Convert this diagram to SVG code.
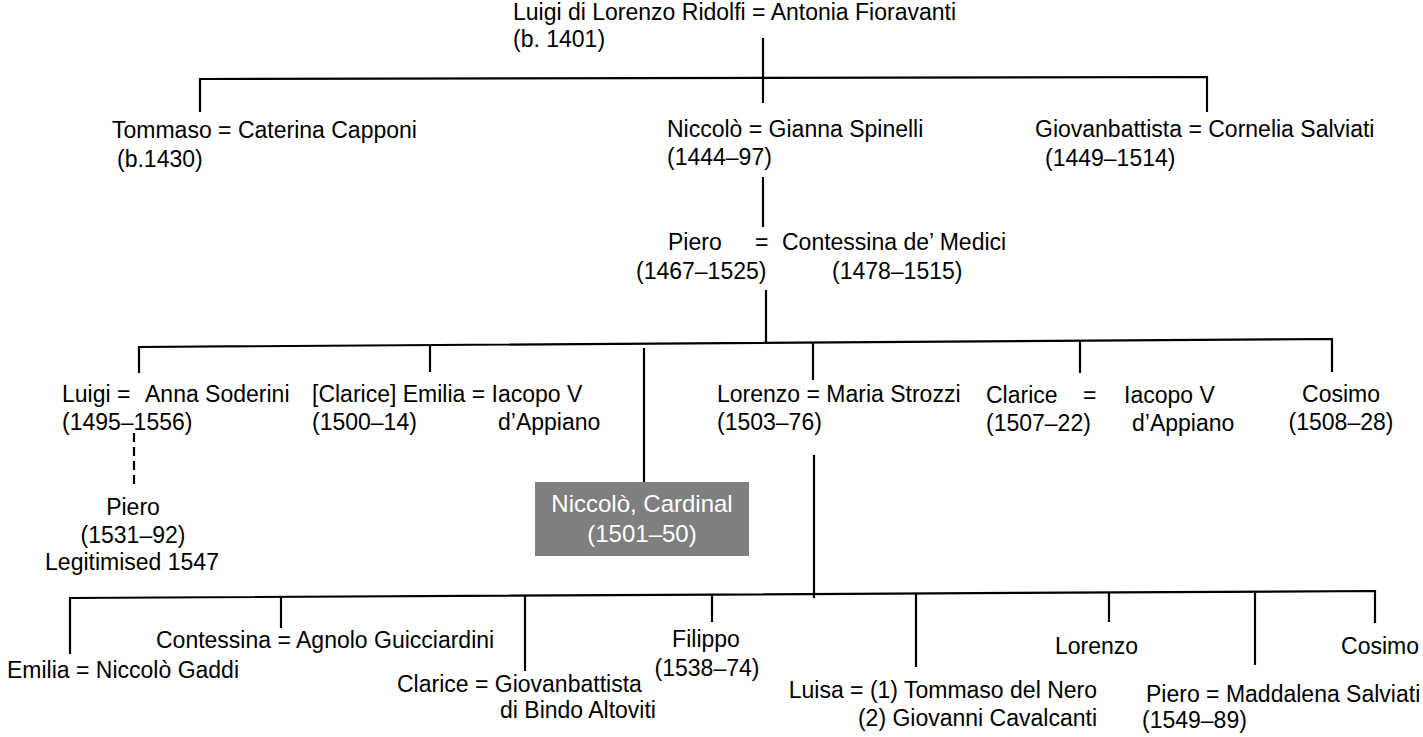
<svg xmlns="http://www.w3.org/2000/svg" width="1423" height="737" viewBox="0 0 1423 737">
<style>
text{font-family:"Liberation Sans",Arial,sans-serif;font-size:23px;fill:#000}
.c{stroke:#000;stroke-width:2.2;fill:none;stroke-linecap:butt}
.d{stroke-dasharray:9 5}
.w{fill:#fff;font-size:24px}
</style>
<rect width="1423" height="737" fill="#fff"/>
<g id="connectors">
<line class="c" x1="763" y1="38" x2="763" y2="103"/>
<polyline class="c" points="200,112 200,79 1207,77 1207,112"/>
<line class="c" x1="763" y1="177" x2="763" y2="227"/>
<line class="c" x1="766" y1="290" x2="766" y2="344"/>
<polyline class="c" points="139,373 139,347 1332,339 1332,372"/>
<line class="c" x1="430" y1="346" x2="430" y2="372"/>
<line class="c" x1="644" y1="348" x2="644" y2="484"/>
<line class="c" x1="813" y1="343" x2="813" y2="380"/>
<line class="c" x1="1080" y1="341" x2="1080" y2="373"/>
<line class="c d" x1="134" y1="433" x2="134" y2="487"/>
<line class="c" x1="814" y1="455" x2="814" y2="598"/>
<polyline class="c" points="70,654 70,598 1375,591 1375,623"/>
<line class="c" x1="281" y1="597" x2="281" y2="628"/>
<line class="c" x1="525" y1="596" x2="525" y2="671"/>
<line class="c" x1="712" y1="595" x2="712" y2="622"/>
<line class="c" x1="916" y1="594" x2="916" y2="667"/>
<line class="c" x1="1109" y1="592" x2="1109" y2="622"/>
<line class="c" x1="1255" y1="592" x2="1255" y2="665"/>
</g>
<g id="n-luigi-root"><text x="513" y="20">Luigi di Lorenzo Ridolfi = Antonia Fioravanti</text><text x="513" y="47">(b. 1401)</text></g>
<g id="n-tommaso"><text x="112" y="138">Tommaso = Caterina Capponi</text><text x="117" y="167">(b.1430)</text></g>
<g id="n-niccolo"><text x="667" y="137">Niccolò = Gianna Spinelli</text><text x="667" y="165">(1444–97)</text></g>
<g id="n-giovanbattista"><text x="1035" y="137">Giovanbattista = Cornelia Salviati</text><text x="1045" y="166">(1449–1514)</text></g>
<g id="n-piero"><text y="250"><tspan x="668">Piero</tspan><tspan x="755">=</tspan><tspan x="782">Contessina de’ Medici</tspan></text><text y="279"><tspan x="636">(1467–1525)</tspan><tspan x="832">(1478–1515)</tspan></text></g>
<g id="n-luigi"><text y="402"><tspan x="62">Luigi =</tspan><tspan x="145">Anna Soderini</tspan></text><text x="62" y="430">(1495–1556)</text></g>
<g id="n-emilia"><text x="312" y="402">[Clarice] Emilia = Iacopo V</text><text y="430"><tspan x="312">(1500–14)</tspan><tspan x="498">d’Appiano</tspan></text></g>
<g id="n-cardinal"><rect x="535" y="482" width="214" height="74" fill="#7f7f7f"/><text class="w" x="642" y="512" text-anchor="middle">Niccolò, Cardinal</text><text class="w" x="642" y="542" text-anchor="middle">(1501–50)</text></g>
<g id="n-lorenzo"><text x="717" y="402">Lorenzo = Maria Strozzi</text><text x="717" y="430">(1503–76)</text></g>
<g id="n-clarice"><text y="403"><tspan x="986">Clarice</tspan><tspan x="1083">=</tspan><tspan x="1124">Iacopo V</tspan></text><text y="431"><tspan x="986">(1507–22)</tspan><tspan x="1132">d’Appiano</tspan></text></g>
<g id="n-cosimo1"><text x="1341" y="402" text-anchor="middle">Cosimo</text><text x="1341" y="430" text-anchor="middle">(1508–28)</text></g>
<g id="n-piero-leg"><text x="133" y="515" text-anchor="middle">Piero</text><text x="133" y="543" text-anchor="middle">(1531–92)</text><text x="132" y="570" text-anchor="middle">Legitimised 1547</text></g>
<g id="n-emilia2"><text x="7" y="678">Emilia = Niccolò Gaddi</text></g>
<g id="n-contessina"><text x="156" y="648">Contessina = Agnolo Guicciardini</text></g>
<g id="n-clarice2"><text x="397" y="692">Clarice = Giovanbattista</text><text x="500" y="718">di Bindo Altoviti</text></g>
<g id="n-filippo"><text x="706" y="647" text-anchor="middle">Filippo</text><text x="707" y="676" text-anchor="middle">(1538–74)</text></g>
<g id="n-luisa"><text x="1097" y="698" text-anchor="end">Luisa = (1) Tommaso del Nero</text><text x="1097" y="726" text-anchor="end">(2) Giovanni Cavalcanti</text></g>
<g id="n-lorenzo2"><text x="1055" y="654">Lorenzo</text></g>
<g id="n-piero2"><text x="1146" y="702">Piero = Maddalena Salviati</text><text x="1142" y="728">(1549–89)</text></g>
<g id="n-cosimo2"><text x="1419" y="654" text-anchor="end">Cosimo</text></g>
</svg>
